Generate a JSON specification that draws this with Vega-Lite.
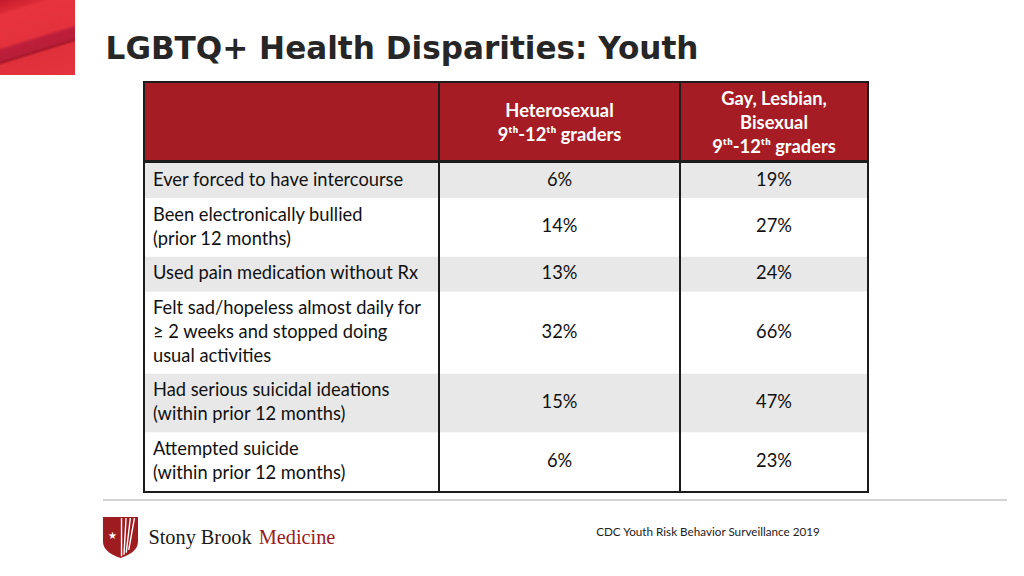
{
  "$schema": "https://vega.github.io/schema/vega-lite/v6.json",
  "background": "white",
  "padding": 0,
  "config": {"view": {"stroke": null}, "concat": {"spacing": 0}},
  "datasets": {
    "rows": [
      {"order": 1, "item": "Ever forced to have intercourse", "het": 0.06, "glb": 0.19},
      {"order": 2, "item": "Been electronically bullied\n(prior 12 months)", "het": 0.14, "glb": 0.27},
      {"order": 3, "item": "Used pain medication without Rx", "het": 0.13, "glb": 0.24},
      {"order": 4, "item": "Felt sad/hopeless almost daily for\n≥ 2 weeks and stopped doing\nusual activities", "het": 0.32, "glb": 0.66},
      {"order": 5, "item": "Had serious suicidal ideations\n(within prior 12 months)", "het": 0.15, "glb": 0.47},
      {"order": 6, "item": "Attempted suicide\n(within prior 12 months)", "het": 0.06, "glb": 0.23}
    ],
    "cols": [
      {"col": "item", "label": ""},
      {"col": "het", "label": "Heterosexual\n9ᵗʰ-12ᵗʰ graders"},
      {"col": "glb", "label": "Gay, Lesbian,\nBisexual\n9ᵗʰ-12ᵗʰ graders"}
    ],
    "deco": [{"name": "block"}],
    "titles": [{"t": "LGBTQ+ Health Disparities: Youth", "brand1": "Stony Brook", "brand2": "Medicine", "source": "CDC Youth Risk Behavior Surveillance 2019", "star": "★"}]
  },
  "spacing": 6,
  "vconcat": [
    {
      "spacing": 0,
      "hconcat": [
        {"width": 75, "height": 75, "data": {"name": "deco"}, "encoding": {},
         "mark": {"type": "rect", "fill": {"gradient": "linear", "x1": 0, "y1": 0, "x2": 0.37, "y2": 1.195,
           "stops": [
             {"offset": 0, "color": "#c41a2c"}, {"offset": 0.12, "color": "#d92834"}, {"offset": 0.16, "color": "#e6333d"},
             {"offset": 0.48, "color": "#e4323d"}, {"offset": 0.52, "color": "#be1f3b"}, {"offset": 0.62, "color": "#b81d38"},
             {"offset": 0.64, "color": "#a8172a"}, {"offset": 0.67, "color": "#e0303b"}, {"offset": 1, "color": "#e4343d"}]}}},
        {"width": 27, "height": 75, "data": {"values": []}, "mark": "rect", "encoding": {}},
        {"width": 600, "height": 75, "data": {"name": "titles"},
         "mark": {"type": "text", "font": "DejaVu Sans", "fontWeight": "bold", "fontSize": 31.1, "color": "#262626", "baseline": "alphabetic", "dy": 21.5},
         "encoding": {"text": {"field": "t"}}}
      ]
    },
    {
      "spacing": 0,
      "hconcat": [
        {"width": 143, "height": 412, "data": {"values": []}, "mark": "rect", "encoding": {}},
        {
          "spacing": 0,
          "vconcat": [
            {"width": 726, "height": 2, "data": {"name": "deco"}, "mark": {"type": "rect", "color": "#1c1c1c"}, "encoding": {}},
            {
              "spacing": 0,
              "data": {"name": "cols"},
              "hconcat": [
                {"width": 2, "height": 77, "data": {"name": "deco"}, "mark": {"type": "rect", "color": "#1c1c1c"}, "encoding": {}},
                {"width": 293, "height": 77, "transform": [{"filter": "datum.col === 'item'"}],
                 "mark": {"type": "rect", "color": "#A61C24"}, "encoding": {}},
                {"width": 2, "height": 77, "data": {"name": "deco"}, "mark": {"type": "rect", "color": "#1c1c1c"}, "encoding": {}},
                {"width": 239, "height": 77, "transform": [{"filter": "datum.col === 'het'"}],
                 "layer": [
                   {"mark": {"type": "rect", "color": "#A61C24"}, "encoding": {}},
                   {"mark": {"type": "text", "color": "white", "font": "Lato", "fontWeight": "bold", "fontSize": 18.3, "lineBreak": "\n", "lineHeight": 24, "dy": -10},
                    "encoding": {"text": {"field": "label"}}}
                 ]},
                {"width": 2, "height": 77, "data": {"name": "deco"}, "mark": {"type": "rect", "color": "#1c1c1c"}, "encoding": {}},
                {"width": 186, "height": 77, "transform": [{"filter": "datum.col === 'glb'"}],
                 "layer": [
                   {"mark": {"type": "rect", "color": "#A61C24"}, "encoding": {}},
                   {"mark": {"type": "text", "color": "white", "font": "Lato", "fontWeight": "bold", "fontSize": 18.3, "lineBreak": "\n", "lineHeight": 24, "dy": -22},
                    "encoding": {"text": {"field": "label"}}}
                 ]},
                {"width": 2, "height": 77, "data": {"name": "deco"}, "mark": {"type": "rect", "color": "#1c1c1c"}, "encoding": {}}
              ]
            },
            {"width": 726, "height": 3, "data": {"name": "deco"}, "mark": {"type": "rect", "color": "#1c1c1c"}, "encoding": {}},
            {
              "spacing": 0,
              "data": {"name": "rows"},
              "transform": [
                {"calculate": "length(split(datum.item, '\\n')) + 0.5", "as": "w"},
                {"stack": "w", "groupby": [], "sort": [{"field": "order", "order": "ascending"}], "as": ["y0", "y1"]},
                {"calculate": "(datum.y0 + datum.y1) / 2", "as": "ym"},
                {"calculate": "datum.y0 + 0.75", "as": "ty"}
              ],
              "hconcat": [
                {"width": 2, "height": 328, "data": {"name": "deco"}, "mark": {"type": "rect", "color": "#1c1c1c"}, "encoding": {}},
                {"width": 293, "height": 328,
                 "layer": [
                   {"mark": {"type": "rect"},
                    "encoding": {
                      "y": {"field": "y0", "type": "quantitative", "scale": {"reverse": true, "nice": false, "zero": true}, "axis": null},
                      "y2": {"field": "y1"},
                      "color": {"condition": {"test": "datum.order % 2 === 1", "value": "#E8E8E8"}, "value": "#FFFFFF"}}},
                   {"mark": {"type": "text", "align": "left", "dx": -138.5, "font": "Lato", "fontSize": 18.3, "lineBreak": "\n", "lineHeight": 24, "color": "#111111"},
                    "encoding": {
                      "y": {"field": "ty", "type": "quantitative", "axis": null},
                      "text": {"field": "item"}}}
                 ]},
                {"width": 2, "height": 328, "data": {"name": "deco"}, "mark": {"type": "rect", "color": "#1c1c1c"}, "encoding": {}},
                {"width": 239, "height": 328,
                 "layer": [
                   {"mark": {"type": "rect"},
                    "encoding": {
                      "y": {"field": "y0", "type": "quantitative", "scale": {"reverse": true, "nice": false, "zero": true}, "axis": null},
                      "y2": {"field": "y1"},
                      "color": {"condition": {"test": "datum.order % 2 === 1", "value": "#E8E8E8"}, "value": "#FFFFFF"}}},
                   {"mark": {"type": "text", "font": "Lato", "fontSize": 18.3, "color": "#111111"},
                    "encoding": {
                      "y": {"field": "ym", "type": "quantitative", "axis": null},
                      "text": {"field": "het", "type": "quantitative", "format": ".0%"}}}
                 ]},
                {"width": 2, "height": 328, "data": {"name": "deco"}, "mark": {"type": "rect", "color": "#1c1c1c"}, "encoding": {}},
                {"width": 186, "height": 328,
                 "layer": [
                   {"mark": {"type": "rect"},
                    "encoding": {
                      "y": {"field": "y0", "type": "quantitative", "scale": {"reverse": true, "nice": false, "zero": true}, "axis": null},
                      "y2": {"field": "y1"},
                      "color": {"condition": {"test": "datum.order % 2 === 1", "value": "#E8E8E8"}, "value": "#FFFFFF"}}},
                   {"mark": {"type": "text", "font": "Lato", "fontSize": 18.3, "color": "#111111"},
                    "encoding": {
                      "y": {"field": "ym", "type": "quantitative", "axis": null},
                      "text": {"field": "glb", "type": "quantitative", "format": ".0%"}}}
                 ]},
                {"width": 2, "height": 328, "data": {"name": "deco"}, "mark": {"type": "rect", "color": "#1c1c1c"}, "encoding": {}}
              ]
            },
            {"width": 726, "height": 2, "data": {"name": "deco"}, "mark": {"type": "rect", "color": "#1c1c1c"}, "encoding": {}}
          ]
        }
      ]
    },
    {
      "spacing": 0,
      "hconcat": [
        {"width": 103, "height": 2, "data": {"values": []}, "mark": "rect", "encoding": {}},
        {"width": 904, "height": 2, "data": {"name": "deco"}, "mark": {"type": "rect", "color": "#D3D3D3"}, "encoding": {}}
      ]
    },
    {
      "spacing": 0,
      "data": {"name": "titles"},
      "hconcat": [
        {"width": 102, "height": 61, "data": {"values": []}, "mark": "rect", "encoding": {}},
        {"width": 35, "height": 61,
         "layer": [
           {"mark": {"type": "point", "shape": "M-0.854,-1L0.854,-1L0.854,0.2Q0.854,0.72 0,1Q-0.854,0.72 -0.854,0.2Z", "size": 1681, "filled": true, "fill": "#9E1B20", "opacity": 1, "strokeWidth": 0}, "encoding": {}},
           {"mark": {"type": "point", "shape": "M0.05,-0.95L0.05,0.92M0.27,-0.95L0.17,0.84M0.48,-0.95L0.28,0.74M0.68,-0.95L0.4,0.6", "size": 1681, "filled": false, "stroke": "white", "strokeWidth": 1.4, "opacity": 1}, "encoding": {}},
           {"mark": {"type": "text", "color": "white", "fontSize": 10, "font": "DejaVu Sans", "dx": -8, "dy": -2}, "encoding": {"text": {"field": "star"}}}
         ]},
        {"width": 6, "height": 61, "data": {"values": []}, "mark": "rect", "encoding": {}},
        {"width": 110, "height": 61,
         "mark": {"type": "text", "font": "Liberation Serif", "fontSize": 20.3, "color": "#1a1a1a"},
         "encoding": {"text": {"field": "brand1"}}},
        {"width": 84, "height": 61,
         "mark": {"type": "text", "font": "Liberation Serif", "fontSize": 20.3, "color": "#9B1B1F"},
         "encoding": {"text": {"field": "brand2"}}},
        {"width": 253, "height": 61, "data": {"values": []}, "mark": "rect", "encoding": {}},
        {"width": 232, "height": 49,
         "mark": {"type": "text", "font": "Lato", "fontSize": 11.7, "color": "#222222"},
         "encoding": {"text": {"field": "source"}}}
      ]
    }
  ]
}
